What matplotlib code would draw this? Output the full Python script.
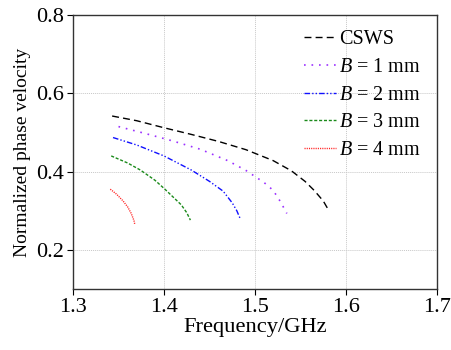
import matplotlib
matplotlib.use("Agg")
import matplotlib.pyplot as plt

# Dispersion curves
freq_csws = [1.343, 1.37, 1.40, 1.43, 1.46, 1.49, 1.52, 1.54, 1.555, 1.565, 1.575, 1.58]
vp_csws = [0.542, 0.530, 0.512, 0.495, 0.477, 0.456, 0.428, 0.402, 0.375, 0.352, 0.325, 0.305]

freq_b1 = [1.350, 1.38, 1.41, 1.44, 1.47, 1.49, 1.51, 1.52, 1.528, 1.535]
vp_b1 = [0.515, 0.497, 0.478, 0.457, 0.428, 0.403, 0.372, 0.352, 0.323, 0.293]

freq_b2 = [1.344, 1.37, 1.40, 1.43, 1.45, 1.465, 1.475, 1.48, 1.4835]
vp_b2 = [0.487, 0.468, 0.440, 0.404, 0.375, 0.350, 0.320, 0.300, 0.281]

freq_b3 = [1.342, 1.36, 1.374, 1.39, 1.401, 1.41, 1.419, 1.425, 1.429]
vp_b3 = [0.440, 0.422, 0.404, 0.378, 0.355, 0.335, 0.315, 0.295, 0.276]

freq_b4 = [1.341, 1.348, 1.355, 1.360, 1.364, 1.367, 1.368]
vp_b4 = [0.355, 0.342, 0.325, 0.310, 0.293, 0.275, 0.264]

plt.rcParams.update({
    "font.family": ["Liberation Serif", "DejaVu Serif"],
    "font.size": 12,
    "mathtext.fontset": "custom",
    "mathtext.rm": "Liberation Serif",
    "mathtext.it": "Liberation Serif:italic",
})

fig = plt.figure(figsize=(4.52, 3.5), dpi=100)
ax = fig.add_axes([0.1615, 0.1743, 0.8053, 0.7827])

ax.plot(freq_csws, vp_csws, color="black", lw=1.0, linestyle=(0, (5, 3)), label="CSWS")
ax.plot(freq_b1, vp_b1, color="#9b30ff", lw=1.2, linestyle=(0, (1, 3.5)), label="$B$ = 1 mm")
ax.plot(freq_b2, vp_b2, color="#1010ff", lw=1.0, linestyle=(0, (4, 1.5, 1, 1.5, 1, 1.5)), label="$B$ = 2 mm")
ax.plot(freq_b3, vp_b3, color="#1a8a1a", lw=1.0, linestyle=(0, (2.2, 1.3)), label="$B$ = 3 mm")
ax.plot(freq_b4, vp_b4, color="#ff2020", lw=1.0, linestyle=(0, (0.8, 0.8)), label="$B$ = 4 mm")

ax.set_xlim(1.3, 1.7)
ax.set_ylim(0.1, 0.8)
ax.set_xticks([1.3, 1.4, 1.5, 1.6, 1.7])
ax.set_yticks([0.2, 0.4, 0.6, 0.8])
ax.grid(True, color="#c8c8c8", linestyle=(0, (1, 1)), lw=0.7)
ax.tick_params(direction="out", length=4.5, width=0.8, labelsize=16, pad=2)

for sp in ax.spines.values():
    sp.set_color("#333333")
    sp.set_linewidth(1.0)

ax.set_xlabel("Frequency/GHz", fontsize=16.2, labelpad=1)
ax.set_ylabel("Normalized phase velocity", fontsize=14, labelpad=4)

leg = ax.legend(loc="upper right", frameon=False, fontsize=14.5, handlelength=1.6,
                handletextpad=0.15, labelspacing=0.42, borderpad=0, borderaxespad=0,
                bbox_to_anchor=(0.955, 0.944))

fig.savefig("out.png", dpi=100, facecolor="white")
